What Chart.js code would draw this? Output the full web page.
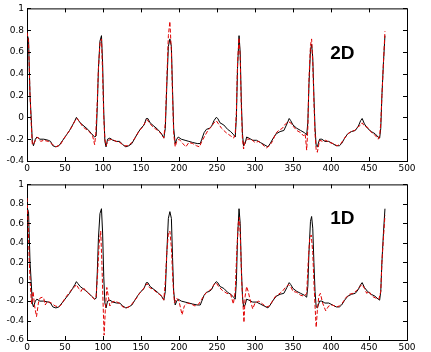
<!DOCTYPE html>
<html>
<head>
<meta charset="utf-8">
<script src="https://cdn.jsdelivr.net/npm/chart.js@4.4.1/dist/chart.umd.min.js"></script>
<style>
  body { margin: 0; background: #fff; }
  canvas { display: block; }
</style>
</head>
<body>
<canvas id="chart2D" width="431" height="176"></canvas>
<canvas id="chart1D" width="431" height="176"></canvas>
<script>
// original ECG trace (black), [sample, amplitude]
const original = [
  [0,0.76],[2,0.72],[4,0.2],[5.5,0],[7,-0.22],[8.5,-0.26],[11,-0.2],[13,-0.18],[17,-0.2],[22,-0.2],
  [28,-0.21],[31,-0.22],[34,-0.26],[38,-0.27],[42,-0.26],[47,-0.21],[52,-0.16],[56,-0.12],[60,-0.07],[63,-0.03],
  [65,0],[67,-0.02],[70,-0.05],[75,-0.08],[80,-0.11],[85,-0.15],[89,-0.18],[91,-0.17],[92.5,0.1],[94,0.45],
  [96,0.7],[98,0.75],[99.5,0.5],[101,0.05],[102.5,-0.22],[104,-0.27],[106,-0.2],[109,-0.19],[113,-0.21],[118,-0.22],
  [122,-0.22],[126,-0.25],[130,-0.27],[134,-0.26],[138,-0.24],[142,-0.19],[146,-0.14],[150,-0.1],[154,-0.07],[157,-0.01],
  [159,-0.01],[162,-0.05],[167,-0.08],[172,-0.11],[177,-0.15],[180,-0.19],[182,-0.1],[184,0.3],[186,0.65],[188,0.72],
  [190,0.65],[191.5,0.25],[193,-0.1],[195,-0.24],[197,-0.2],[199,-0.18],[203,-0.2],[208,-0.21],[213,-0.22],[218,-0.23],
  [224,-0.24],[228,-0.24],[230,-0.2],[233,-0.14],[236,-0.11],[240,-0.1],[243,-0.08],[246,-0.03],[249,0],[251,-0.01],
  [254,-0.05],[259,-0.07],[264,-0.11],[268,-0.13],[272,-0.16],[274,-0.18],[275.5,0],[277,0.45],[279,0.75],[280.5,0.6],
  [282,0.15],[283.5,-0.15],[285,-0.26],[287,-0.24],[289,-0.18],[292,-0.19],[297,-0.21],[302,-0.21],[307,-0.23],[312,-0.25],
  [317,-0.27],[320,-0.24],[324,-0.19],[328,-0.15],[333,-0.13],[338,-0.12],[342,-0.06],[345,-0.01],[347,-0.03],[350,-0.07],
  [355,-0.1],[360,-0.12],[365,-0.14],[368,-0.16],[369.5,-0.05],[371,0.3],[373,0.62],[374.5,0.67],[376,0.55],[377.5,0.2],
  [379,-0.1],[380.5,-0.26],[382,-0.27],[385,-0.2],[388,-0.2],[392,-0.22],[397,-0.22],[402,-0.24],[407,-0.26],[411,-0.26],
  [414,-0.24],[418,-0.19],[422,-0.15],[427,-0.13],[432,-0.12],[436,-0.08],[439,-0.03],[441,-0.01],[444,-0.06],[448,-0.1],
  [453,-0.13],[458,-0.15],[462,-0.18],[464,-0.19],[465.5,-0.1],[467,0.2],[469,0.5],[471,0.75]
];

// 2D reconstruction (red dashed, top panel)
const recon2D = [
  [0,0.78],[2,0.7],[4,0.2],[5.5,-0.05],[7,-0.25],[9,-0.24],[12,-0.2],[14,-0.18],[18,-0.22],[22,-0.21],
  [28,-0.22],[34,-0.25],[38,-0.27],[44,-0.25],[48,-0.2],[53,-0.15],[57,-0.11],[61,-0.06],[64,-0.02],[66,-0.01],
  [69,-0.04],[74,-0.09],[80,-0.12],[86,-0.16],[89,-0.25],[90.5,-0.15],[92.5,0.15],[94,0.45],[96,0.68],[98,0.72],
  [99.5,0.4],[101,0],[102.5,-0.2],[104,-0.26],[107,-0.21],[112,-0.2],[117,-0.22],[122,-0.23],[128,-0.26],[133,-0.26],
  [138,-0.23],[143,-0.18],[148,-0.12],[152,-0.09],[156,-0.04],[158,-0.02],[161,-0.05],[166,-0.09],[172,-0.12],[178,-0.16],
  [180,-0.19],[182,-0.05],[184,0.35],[186,0.75],[188,0.88],[190,0.6],[191.5,0.2],[193,-0.15],[195,-0.27],[197,-0.22],
  [200,-0.2],[205,-0.24],[209,-0.27],[213,-0.23],[218,-0.24],[223,-0.26],[227,-0.27],[230,-0.22],[234,-0.17],[238,-0.12],
  [242,-0.09],[246,-0.05],[249,-0.03],[252,-0.06],[256,-0.1],[262,-0.14],[268,-0.17],[272,-0.19],[274,-0.15],[275.5,0.05],
  [277,0.5],[279,0.73],[280.5,0.55],[282,0.1],[283.5,-0.2],[285,-0.29],[287,-0.22],[290,-0.2],[295,-0.2],[300,-0.23],
  [305,-0.22],[310,-0.25],[315,-0.28],[319,-0.26],[323,-0.22],[327,-0.15],[331,-0.12],[336,-0.1],[340,-0.06],[344,-0.04],
  [347,-0.05],[350,-0.08],[355,-0.12],[360,-0.14],[364,-0.17],[366,-0.15],[368,-0.3],[369.5,-0.1],[371,0.35],[373,0.66],
  [374.5,0.72],[376,0.5],[377.5,0.15],[379,-0.15],[380.5,-0.3],[382,-0.32],[385,-0.21],[389,-0.22],[393,-0.21],[398,-0.23],
  [403,-0.24],[408,-0.26],[413,-0.24],[417,-0.2],[421,-0.16],[426,-0.13],[431,-0.12],[435,-0.09],[439,-0.07],[441,-0.05],
  [444,-0.08],[448,-0.09],[452,-0.13],[456,-0.15],[460,-0.18],[462,-0.2],[464,-0.17],[465.5,-0.05],[467,0.2],[469,0.5],
  [471,0.79]
];

// 1D reconstruction (red dashed, bottom panel)
const recon1D = [
  [0,0.86],[1.5,0.6],[3,0.2],[4.5,-0.05],[6,-0.23],[8,-0.1],[10,-0.25],[12.5,-0.36],[15,-0.22],[17,-0.17],
  [20,-0.16],[22,-0.17],[24,-0.24],[27,-0.2],[32,-0.22],[37,-0.25],[42,-0.26],[46,-0.23],[50,-0.17],[55,-0.12],
  [59,-0.08],[62,-0.06],[65,-0.03],[68,-0.07],[71,-0.1],[74,-0.06],[78,-0.1],[82,-0.13],[86,-0.16],[89,-0.18],
  [91,-0.15],[93,0.1],[95,0.4],[97,0.52],[98.5,0.2],[100,-0.2],[101.5,-0.55],[103,-0.3],[105,-0.06],[107,-0.15],
  [109,-0.25],[112,-0.21],[116,-0.2],[121,-0.22],[126,-0.26],[131,-0.27],[136,-0.25],[140,-0.21],[144,-0.17],[148,-0.12],
  [152,-0.09],[156,-0.04],[158,-0.02],[161,-0.06],[166,-0.08],[172,-0.12],[178,-0.15],[180,-0.19],[182,0],[184,0.3],
  [186,0.5],[188,0.52],[190,0.35],[192,0],[194,-0.22],[197,-0.17],[200,-0.2],[204,-0.34],[207,-0.25],[211,-0.22],
  [216,-0.23],[221,-0.25],[226,-0.23],[230,-0.18],[234,-0.13],[238,-0.1],[242,-0.08],[246,-0.03],[249,-0.01],[252,-0.05],
  [257,-0.09],[263,-0.12],[268,-0.13],[271.5,-0.23],[274,-0.1],[276,0.3],[278,0.6],[279.5,0.66],[281,0.4],[282.5,0],
  [284,-0.2],[285.5,-0.42],[287,-0.15],[289,-0.05],[291,-0.1],[294,-0.2],[297,-0.28],[300,-0.22],[305,-0.2],[310,-0.23],
  [315,-0.26],[319,-0.25],[323,-0.2],[327,-0.15],[331,-0.13],[336,-0.1],[340,-0.06],[344,-0.03],[347,-0.05],[350,-0.1],
  [355,-0.11],[360,-0.14],[365,-0.15],[368,-0.12],[370,0.2],[372,0.45],[374,0.48],[376,0.3],[377.5,0],[379,-0.25],
  [380.5,-0.47],[382,-0.3],[384,-0.15],[386,-0.12],[389,-0.22],[393,-0.3],[397,-0.25],[402,-0.24],[407,-0.26],[411,-0.25],
  [415,-0.22],[419,-0.17],[424,-0.13],[429,-0.12],[434,-0.09],[438,-0.05],[441,-0.03],[444,-0.07],[447,-0.12],[450,-0.1],
  [454,-0.15],[459,-0.17],[463,-0.18],[465.5,-0.1],[467,0.2],[469,0.45],[471,0.68]
];

const xTicks = [0, 50, 100, 150, 200, 250, 300, 350, 400, 450, 500];
const yTicks2D = [-0.4, -0.2, 0, 0.2, 0.4, 0.6, 0.8, 1];
const yTicks1D = [-0.6, -0.4, -0.2, 0, 0.2, 0.4, 0.6, 0.8, 1];

const toPoints = arr => arr.map(p => ({ x: p[0], y: p[1] }));

// box on top/right and little ticks pointing into the plot on every side
const framePlugin = {
  id: "frame",
  afterDraw(chart) {
    const { ctx, chartArea: a, scales } = chart;
    const len = 4;
    ctx.save();
    ctx.strokeStyle = "#000";
    ctx.lineWidth = 1;
    ctx.beginPath();
    ctx.moveTo(a.left, a.top + 0.5);
    ctx.lineTo(a.right + 0.5, a.top + 0.5);
    ctx.lineTo(a.right + 0.5, a.bottom);
    scales.x.ticks.forEach(t => {
      const px = Math.round(scales.x.getPixelForValue(t.value)) + 0.5;
      ctx.moveTo(px, a.top); ctx.lineTo(px, a.top + len);
      ctx.moveTo(px, a.bottom); ctx.lineTo(px, a.bottom - len);
    });
    scales.y.ticks.forEach(t => {
      const py = Math.round(scales.y.getPixelForValue(t.value)) + 0.5;
      ctx.moveTo(a.left, py); ctx.lineTo(a.left + len, py);
      ctx.moveTo(a.right, py); ctx.lineTo(a.right - len, py);
    });
    ctx.stroke();

    const lab = chart.options.plugins.panelLabel;
    ctx.fillStyle = "#000";
    ctx.font = "bold 19px 'Liberation Sans', Arial, sans-serif";
    ctx.textAlign = "left";
    ctx.textBaseline = "alphabetic";
    ctx.fillText(lab.text, scales.x.getPixelForValue(lab.x), scales.y.getPixelForValue(lab.y));
    ctx.restore();
  }
};

function makeChart(id, recon, yTicks, axisBottom, label, labelY) {
  const ctx = document.getElementById(id).getContext("2d");
  return new Chart(ctx, {
    type: "line",
    data: {
      datasets: [{
        label: "reconstructed",
        data: toPoints(recon),
        borderColor: "#e00000",
        borderWidth: 1,
        borderDash: [4, 2],
        pointRadius: 0,
        tension: 0
      }, {
        label: "original",
        data: toPoints(original),
        borderColor: "#000",
        borderWidth: 1,
        pointRadius: 0,
        tension: 0
      }]
    },
    options: {
      responsive: false,
      animation: false,
      devicePixelRatio: 1,
      layout: { padding: { top: 5, right: 24, left: 0, bottom: 0 } },
      plugins: {
        legend: { display: false },
        tooltip: { enabled: false },
        panelLabel: { text: label, x: 399, y: labelY }
      },
      scales: {
        x: {
          type: "linear",
          min: 0,
          max: 500,
          afterFit: s => { s.height = 176 - axisBottom; },
          afterBuildTicks: s => { s.ticks = xTicks.map(v => ({ value: v })); },
          grid: { display: false, drawTicks: false },
          border: { color: "#000", width: 1 },
          ticks: {
            autoSkip: false,
            maxRotation: 0,
            padding: 2,
            color: "#000",
            font: { family: "'DejaVu Sans'", size: 9 },
            callback: v => String(v)
          }
        },
        y: {
          type: "linear",
          min: yTicks[0],
          max: 1,
          afterFit: s => { s.width = 27; },
          afterBuildTicks: s => { s.ticks = yTicks.map(v => ({ value: v })); },
          grid: { display: false, drawTicks: false },
          border: { color: "#000", width: 1 },
          ticks: {
            autoSkip: false,
            padding: 3,
            color: "#000",
            font: { family: "'DejaVu Sans'", size: 9 },
            callback: v => String(Math.round(v * 10) / 10)
          }
        }
      }
    },
    plugins: [framePlugin]
  });
}

makeChart("chart2D", recon2D, yTicks2D, 161, "2D", 0.54);
makeChart("chart1D", recon1D, yTicks1D, 164, "1D", 0.59);
</script>
</body>
</html>
